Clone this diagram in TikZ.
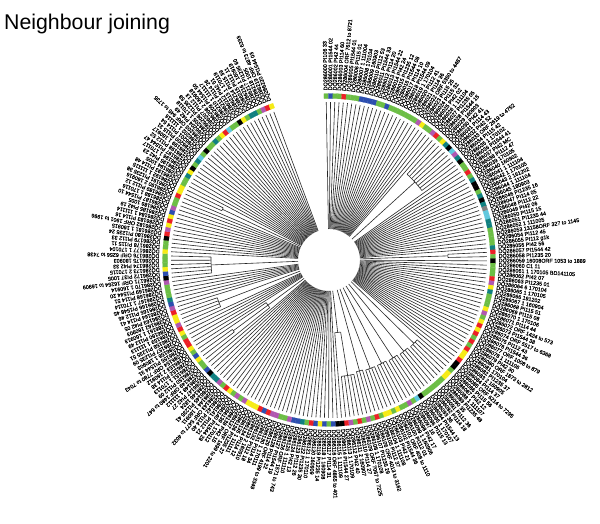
\documentclass[tikz,border=0pt]{standalone}
\usepackage{fontspec}
\setmainfont{Liberation Sans}
\newfontfamily\labfont[FakeBold=0.35]{Liberation Sans}
\definecolor{ringG}{RGB}{108,190,69}
\definecolor{ringY}{RGB}{246,235,22}
\definecolor{ringR}{RGB}{236,32,38}
\definecolor{ringB}{RGB}{44,78,175}
\definecolor{ringP}{RGB}{176,88,176}
\definecolor{ringT}{RGB}{16,128,128}
\definecolor{ringC}{RGB}{96,200,222}
\definecolor{ringK}{RGB}{0,0,0}
\definecolor{ringE}{RGB}{128,128,128}
\begin{document}
\begin{tikzpicture}[x=1pt,y=1pt,
  branch/.style={line width=0.6pt, draw=black!85},
  lab/.style={font=\labfont\fontsize{5.4}{5.4}\selectfont, inner sep=0pt, anchor=west, text=black},
  titlestyle/.style={font=\fontsize{21.3}{24}\selectfont, inner sep=0pt, anchor=base west}]
\useasboundingbox (0,0) rectangle (600,524);
\fill[white] (0,0) rectangle (600,524);
\node[titlestyle] (title) at (4,494.5) {Neighbour joining};
\begin{scope}[shift={(329,264)}]
\def\D{1.548}
% leaf branches
\foreach \ia/\ib/\rr in {0/27/31, 28/35/116, 36/56/31, 57/58/119, 59/85/31, 86/89/119, 90/93/118, 94/97/117, 98/101/116, 102/105/116, 106/108/115, 109/113/117, 114/114/73, 115/149/31, 150/150/76, 151/152/119, 153/153/76, 154/159/31, 160/163/118, 164/170/31, 171/176/118, 177/190/31, 191/192/118, 193/220/31} {
  \foreach \ii in {\ia,...,\ib} {
    \pgfmathsetmacro\ang{91-\ii*\D}
    \draw[branch] (\ang:\rr) -- (\ang:158);
  }
}
% internal branches and node arcs
\foreach \cf/\cl/\cm/\cp/\cr in {28/35/31.5/31/116, 57/58/57.5/31/119, 86/89/87.5/31/119, 90/93/91.5/31/118, 94/97/95.5/31/117, 98/101/99.5/31/116, 102/105/103.5/31/116, 106/108/107/31/115, 111/114/112.5/31/73, 109/113/111/73/117, 150/153/151.5/31/76, 151/152/151.5/76/119, 160/163/161.5/31/118, 171/176/173.5/31/118, 191/192/191.5/31/118} {
  \pgfmathsetmacro\ta{91-\cf*\D}
  \pgfmathsetmacro\tb{91-\cl*\D}
  \pgfmathsetmacro\tm{91-\cm*\D}
  \draw[branch] (\tm:\cp) -- (\tm:\cr);
  \draw[branch] (\ta:\cr) arc[start angle=\ta, end angle=\tb, radius=\cr];
}
% colour ring and labels
\foreach \cc/\ss [count=\ii from 0] in {
G/PI106 33,B/PI1544 02,G/PI42 44,G/PI114 60,R/ORF 7612 to 8721,G/PI1544 01,G/PI115 01,G/1 111004,B/170104,B/160903,
B/PI112 53,B/PI1544 33,G/PI114 20,G/PI1544 22,B/PI42 24,G/PI1235 12,G/PI1544 08,G/PI114 10,G/PI1544 09,G/1 170104,
G/PI112 41,G/PI114 36,P/ORF 5350 to 4487,Y/PI115 25,G/PI115 32,G/PI42 02,P/1 111104,R/PI1235 05,G/PI1544 15,Y/160903,
T/PI42 41,K/PI114 43,C/PI42 52,P/ORF 2619 to 4752,T/PI115 42,K/1 170102,G/PI1544 41,G/PI42 MC,R/PI112 47,G/170105,
T/160902,K/1 111104,K/1 170105,G/2 161202,T/1 111104,K/180903,T/PI1235 16,E/PI114 05,C/PI112 22,C/PI42 06,
T/PI115 15,T/PI1235 44,G/1 111005,G/13158ORF 327 to 1145,G/PI112 45,G/PI112 g1k,T/PI42 56,R/PI1544 42,G/PI1235 20,K/16008ORF 1053 to 1889,
G/C1 11,G/1 170105 BD141105,G/PI42 07,R/PI1235 01,P/6 170104,Y/1 170105,T/191202,G/1 160904,G/PI115 51,G/PI115 08,
Y/1 170106,P/PI114 44,G/ORF 1424 to 573,Y/PI1544 38,R/ORF 5517 to 6368,Y/PI112 43,R/PI1544 36,G/ORF 1008 to 879,R/1 111106,G/PI42 30,
R/ORF 1873 to 2812,Y/170104,Y/PI1235 37,R/2 160905,K/PI114 37,K/ORF 6214 to 7295,G/PI115 56,Y/PI42 12,Y/1 111107,G/PI1235 48,
G/35,G/PI112 36,G/PI114 18,G/36,G/PI1544 13,K/1 170107,C/PI115 13,G/16,P/PI42 17,G/1 160906,
G/PI112 01,Y/ORF 408 to 1110,G/PI1544 36,Y/PI42 21,Y/1 111108,G/PI112 37,R/ORF 4013 to 3162,G/PI1235 29,P/1 170108,G/ORF 7067 to 7225,
R/PI114 27,G/2 160907,P/PI42 40,R/1 170109,K/PI1544 27,K/1 111109,B/ORF 4865 to 401,G/PI114 31,B/1 160908,Y/PI1235 14,
B/160909,R/1 170110,G/PI1235 30,T/PI112 26,B/PI42 13,B/1 111110,P/ORF 1571 to 743,G/PI1544 19,G/PI114 22,P/ORF 4199 to 3349,
P/1 170111,R/PI114 34,B/PI112 18,R/2 160910,Y/PI114 12,Y/1 111111,Y/PI1235 27,P/ORF 1699 to 2201,G/PI42 15,P/1 170112,
G/PI1544 28,Y/PI112 21,R/PI114 40,G/ORF 5477 to 4032,P/1 160911,T/PI1235 41,T/1824,K/PI42 27,B/1 111112,G/ORF 1480 to 647,
G/PI112 09,Y/1 170113,B/PI114 38,G/2 160912,Y/ORF 7780 to 7043,R/PI1544 31,R/1 180903,G/PI1235 09,Y/PI1235 51,R/1 111113,
P/PI112 49,Y/1 160913,Y/160903,R/PI42 05,P/PI114 41,B/PI112 46,T/PI1548 45,G/1 170114,G/PI114 51,G/PI1544 20,
P/1 160914,K/ORF 16254 to 16909,B/PI37 1005,Y/2 170115,G/PI42 33,G/180903,G/ORF 6256 to 7438,Y/1 170104,G/PI115 11,G/PI112 33,
K/PI1235 24,R/1 160915,P/ORF 1901 to 1996,Y/PI114 16,R/1 111114,Y/PI42 19,B/1005,P/PI1544 10,G/1 170116,G/PI112 12,
R/2 160916,Y/PI1235 38,Y/1 111115,G/PI114 48,G/1005,T/PI42 23,Y/1 170117,K/PI1544 47,G/PI112 52,T/1 160917,
C/PI115 31,G/PI114 54,K/1 111116,G/ORF 945 to 1735,G/PI42 49,T/1 170118,G/PI1235 58,Y/PI112 13,R/2 160918,C/PI1544 50,
G/1 111117,G/PI114 26,K/PI42 51,Y/1 170119,G/PI115 39,T/PI112 11,T/1 160919,G/PI1235 60,P/1005,R/ORF 4873 to 6333,
Y/PI1544 03} {
  \pgfmathsetmacro\ang{91-\ii*\D}
  \pgfmathsetmacro\ta{\ang+\D/2}
  \pgfmathsetmacro\tb{\ang-\D/2}
  \filldraw[fill=ring\cc, draw=ring\cc, line width=0.15pt] (\ta:161.5) arc[start angle=\ta, end angle=\tb, radius=161.5] -- (\tb:166.5) arc[start angle=\tb, end angle=\ta, radius=166.5] -- cycle;
  \node[lab, rotate=\ang] (l\ii) at (\ang:169.5) {DQ\the\numexpr286000+\ii\relax\ \ss};
}
\end{scope}
\end{tikzpicture}
\end{document}
